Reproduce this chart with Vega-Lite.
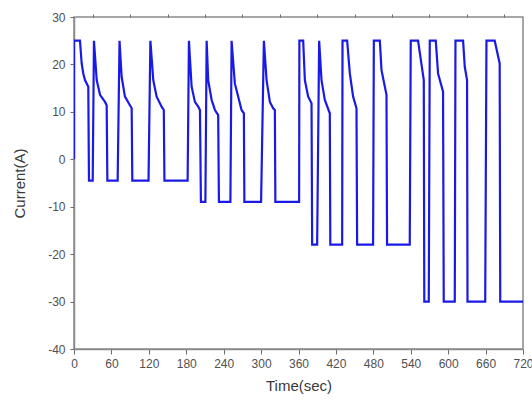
{
  "$schema": "https://vega.github.io/schema/vega-lite/v6.json",
  "autosize": {"type": "none"},
  "width": 449,
  "height": 332,
  "padding": {"left": 74, "top": 17, "right": 9, "bottom": 53},
  "background": "white",
  "config": {
    "view": {"stroke": "#8a8a8a", "strokeWidth": 1.5},
    "axis": {
      "grid": false,
      "domainColor": "#8a8a8a",
      "domainWidth": 1.5,
      "tickColor": "#6a6a6a",
      "tickWidth": 1,
      "labelFont": "Liberation Sans",
      "labelFontSize": 12,
      "labelColor": "#505050",
      "titleFont": "Liberation Sans",
      "titleFontSize": 15,
      "titleFontWeight": "normal",
      "titleColor": "#3a3a3a"
    }
  },
  "data": {
    "values": [
      {"i": 0, "t": 0, "I": 0},
      {"i": 1, "t": 0, "I": 25},
      {"i": 2, "t": 9.6, "I": 25},
      {"i": 3, "t": 12.3, "I": 20.2},
      {"i": 4, "t": 14.9, "I": 18.1},
      {"i": 5, "t": 17.6, "I": 16.7},
      {"i": 6, "t": 22.9, "I": 15.3},
      {"i": 7, "t": 24, "I": -4.5},
      {"i": 8, "t": 30, "I": -4.5},
      {"i": 9, "t": 32, "I": 25},
      {"i": 10, "t": 36.4, "I": 16.7},
      {"i": 11, "t": 41.7, "I": 13.6},
      {"i": 12, "t": 49.7, "I": 12.1},
      {"i": 13, "t": 52.4, "I": 11.4},
      {"i": 14, "t": 53.5, "I": -4.5},
      {"i": 15, "t": 70, "I": -4.5},
      {"i": 16, "t": 73, "I": 25},
      {"i": 17, "t": 76.4, "I": 17.4},
      {"i": 18, "t": 81.7, "I": 13.2},
      {"i": 19, "t": 89.7, "I": 11.4},
      {"i": 20, "t": 92.5, "I": 10.75},
      {"i": 21, "t": 93.5, "I": -4.5},
      {"i": 22, "t": 119.5, "I": -4.5},
      {"i": 23, "t": 122.5, "I": 25},
      {"i": 24, "t": 127.1, "I": 16.7},
      {"i": 25, "t": 132.5, "I": 13.2},
      {"i": 26, "t": 140.5, "I": 11.1},
      {"i": 27, "t": 144, "I": 10.4},
      {"i": 28, "t": 145, "I": -4.5},
      {"i": 29, "t": 182.2, "I": -4.5},
      {"i": 30, "t": 184.3, "I": 25},
      {"i": 31, "t": 188.6, "I": 15.3},
      {"i": 32, "t": 193.9, "I": 12.1},
      {"i": 33, "t": 199.2, "I": 11.1},
      {"i": 34, "t": 202, "I": 10.4},
      {"i": 35, "t": 203.5, "I": -9},
      {"i": 36, "t": 210.7, "I": -9},
      {"i": 37, "t": 212.7, "I": 25},
      {"i": 38, "t": 215.2, "I": 16.7},
      {"i": 39, "t": 220.7, "I": 12.5},
      {"i": 40, "t": 226, "I": 10.4},
      {"i": 41, "t": 231.2, "I": 9.3},
      {"i": 42, "t": 232.4, "I": -9},
      {"i": 43, "t": 250.8, "I": -9},
      {"i": 44, "t": 252.7, "I": 25},
      {"i": 45, "t": 257.9, "I": 16},
      {"i": 46, "t": 263.3, "I": 13.2},
      {"i": 47, "t": 268.7, "I": 10.4},
      {"i": 48, "t": 272.4, "I": 9.7},
      {"i": 49, "t": 273.2, "I": -9},
      {"i": 50, "t": 300, "I": -9},
      {"i": 51, "t": 304.5, "I": 25},
      {"i": 52, "t": 308.8, "I": 16.7},
      {"i": 53, "t": 314.1, "I": 12.1},
      {"i": 54, "t": 319.4, "I": 10.75},
      {"i": 55, "t": 322.1, "I": 10.4},
      {"i": 56, "t": 322.9, "I": -9},
      {"i": 57, "t": 361, "I": -9},
      {"i": 58, "t": 361.4, "I": 25},
      {"i": 59, "t": 367.5, "I": 25},
      {"i": 60, "t": 370.2, "I": 16.7},
      {"i": 61, "t": 375.5, "I": 13.2},
      {"i": 62, "t": 380.9, "I": 11.8},
      {"i": 63, "t": 381.9, "I": -18},
      {"i": 64, "t": 389.9, "I": -18},
      {"i": 65, "t": 393.1, "I": 25},
      {"i": 66, "t": 396.9, "I": 16.7},
      {"i": 67, "t": 402.2, "I": 12.5},
      {"i": 68, "t": 410.2, "I": 9.7},
      {"i": 69, "t": 411, "I": -18},
      {"i": 70, "t": 430, "I": -18},
      {"i": 71, "t": 430.6, "I": 25},
      {"i": 72, "t": 438, "I": 25},
      {"i": 73, "t": 442.3, "I": 18.1},
      {"i": 74, "t": 447.6, "I": 13.2},
      {"i": 75, "t": 453, "I": 10.75},
      {"i": 76, "t": 454, "I": -18},
      {"i": 77, "t": 479.6, "I": -18},
      {"i": 78, "t": 480.8, "I": 25},
      {"i": 79, "t": 490.4, "I": 25},
      {"i": 80, "t": 493.1, "I": 18.8},
      {"i": 81, "t": 501.1, "I": 13.6},
      {"i": 82, "t": 502, "I": -18},
      {"i": 83, "t": 538.4, "I": -18},
      {"i": 84, "t": 540, "I": 25},
      {"i": 85, "t": 551.7, "I": 25},
      {"i": 86, "t": 560.9, "I": 16.7},
      {"i": 87, "t": 561.7, "I": -30},
      {"i": 88, "t": 568.9, "I": -30},
      {"i": 89, "t": 570.5, "I": 25},
      {"i": 90, "t": 580.1, "I": 25},
      {"i": 91, "t": 583.8, "I": 18.1},
      {"i": 92, "t": 591.8, "I": 14.25},
      {"i": 93, "t": 592.9, "I": -30},
      {"i": 94, "t": 610.6, "I": -30},
      {"i": 95, "t": 611.7, "I": 25},
      {"i": 96, "t": 623.9, "I": 25},
      {"i": 97, "t": 626.6, "I": 19.5},
      {"i": 98, "t": 630.3, "I": 16.7},
      {"i": 99, "t": 631, "I": -30},
      {"i": 100, "t": 659.4, "I": -30},
      {"i": 101, "t": 661.4, "I": 25},
      {"i": 102, "t": 674.6, "I": 25},
      {"i": 103, "t": 682.6, "I": 20.2},
      {"i": 104, "t": 683.5, "I": -30},
      {"i": 105, "t": 720, "I": -30}
    ]
  },
  "layer": [
    {
      "mark": {"type": "line", "color": "#1a1ae6", "strokeWidth": 2.2, "clip": true},
      "encoding": {
        "x": {
          "field": "t", "type": "quantitative",
          "scale": {"domain": [0, 720], "nice": false, "zero": false},
          "axis": {"title": "Time(sec)", "values": [0, 60, 120, 180, 240, 300, 360, 420, 480, 540, 600, 660, 720], "tickSize": 5, "labelPadding": 4, "titlePadding": 9, "labelFlush": false, "labelOverlap": false}
        },
        "y": {
          "field": "I", "type": "quantitative",
          "scale": {"domain": [-40, 30], "nice": false, "zero": false},
          "axis": {"title": "Current(A)", "values": [-40, -30, -20, -10, 0, 10, 20, 30], "labelExpr": "replace(datum.label, '−', '-')", "tickSize": 4, "labelPadding": 5, "titlePadding": 20}
        },
        "order": {"field": "i", "type": "quantitative"}
      }
    },
    {
      "mark": {"type": "line", "strokeOpacity": 0},
      "encoding": {
        "x": {
          "field": "t", "type": "quantitative",
          "axis": {"title": null, "values": [30, 90, 150, 210, 270, 330, 390, 450, 510, 570, 630, 690], "labels": false, "domain": false, "tickSize": 3, "tickColor": "#6a6a6a"}
        },
        "y": {
          "field": "I", "type": "quantitative",
          "axis": {"title": "Current(A)", "values": [-40, -30, -20, -10, 0, 10, 20, 30], "labelExpr": "replace(datum.label, '−', '-')", "tickSize": 4, "labelPadding": 5, "titlePadding": 20}
        },
        "order": {"field": "i", "type": "quantitative"}
      }
    }
  ],
  "resolve": {"axis": {"x": "independent"}}
}
